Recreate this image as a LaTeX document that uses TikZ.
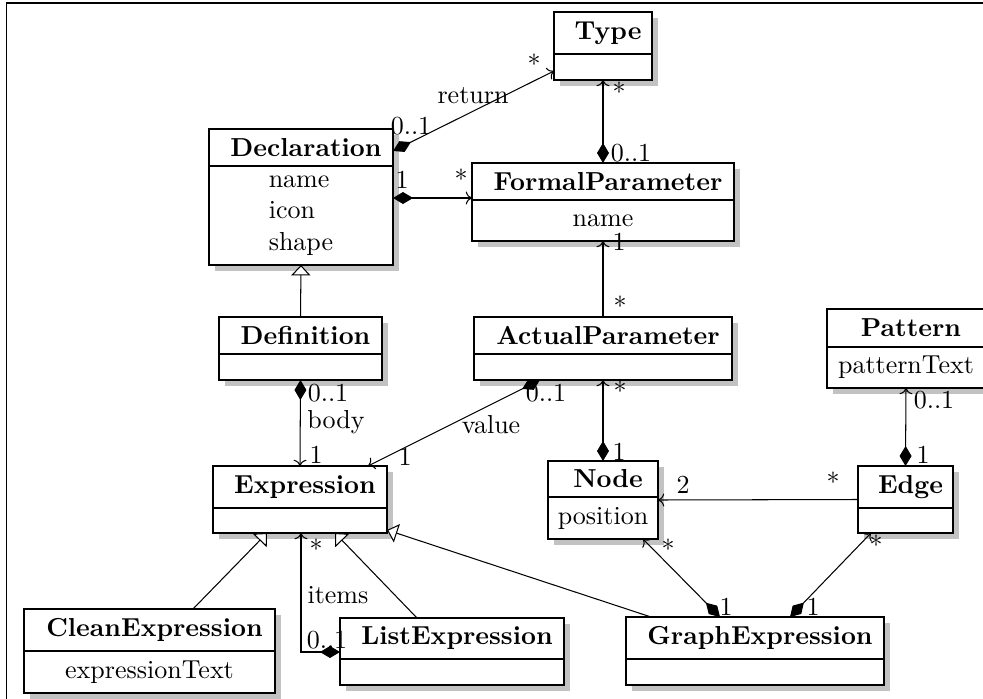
\documentclass[tikz,border=0pt]{standalone}
\usetikzlibrary{arrows.meta,calc}

% class box: name, x1, y1, x2, y-divider, y2, title, attributes
\newcommand\umlclass[8]{%
  \fill[boxshadow] (#2+6,#3+6) rectangle (#4+6,#6+6);
  \node[classbox, anchor=north west,
        minimum width={(#4-#2)*0.3846pt},
        minimum height={(#6-#3)*0.3846pt}] (#1) at (#2,#3) {};
  \draw[classrule] (#2,#5) -- (#4,#5);
  \node[classname] (#1-name) at ({(#2+#4)/2+5},{(#3+#5)/2}) {#7};
  \if\relax\detokenize{#8}\relax\else
    \node[classattr] (#1-attr) at ({(#2+#4)/2},{(#5+#6)/2}) {#8};
  \fi
}

\begin{document}
\begin{tikzpicture}[x=0.3846pt,y=-0.3846pt,
  boxshadow/.style={fill=black!24},
  classbox/.style={rectangle,draw=black,line width=0.5pt,fill=white,inner sep=0pt,outer sep=0pt},
  classrule/.style={draw=black,line width=0.5pt},
  classname/.style={inner sep=0pt,font=\bfseries},
  classattr/.style={inner sep=0pt,align=left},
  mult/.style={inner sep=0pt},
  assoc/.style={draw=black,line width=0.4pt,-{To[length=2.4pt,width=5pt]}},
  comp/.style={draw=black,line width=0.4pt,{Diamond[length=7.7pt,width=4.6pt]}-{To[length=2.4pt,width=5pt]}},
  gen/.style={draw=black,line width=0.4pt,-{Triangle[open,length=4pt,width=7.4pt,fill=white]}}
]
\useasboundingbox (0,0) rectangle (983,699);
\clip (0,0) rectangle (983,699);
\fill[white] (0,0) rectangle (983,699);

% outer frame
\draw[line width=0.5pt] (6.5,720) -- (6.5,3) -- (1000,3);

% classes
\umlclass{type}{554}{12}{652}{54}{80}{Type}{}
\umlclass{decl}{209}{129}{393}{166}{265}{Declaration}{name\\icon\\shape}
\umlclass{fp}{472}{163}{734}{200}{241}{FormalParameter}{name}
\umlclass{def}{219}{317}{382}{354}{380}{Definition}{}
\umlclass{ap}{474}{317}{732}{354}{380}{ActualParameter}{}
\umlclass{pattern}{827}{309}{985}{347}{388}{Pattern}{patternText}
\umlclass{node}{548}{461}{658}{497}{539}{Node}{position}
\umlclass{edge}{858}{466}{953}{508}{533}{Edge}{}
\umlclass{expr}{213}{466}{387}{508}{533}{Expression}{}
\umlclass{clean}{24}{609}{275}{651}{693}{CleanExpression}{expressionText}
\umlclass{list}{340}{618}{564}{659}{685}{ListExpression}{}
\umlclass{graph}{626}{617}{884}{659}{685}{GraphExpression}{}

% associations and compositions
\draw[comp] ($(decl.north east)+(0,22)$) -- ($(type.south west)+(0,-9)$);
\draw[comp] ($(decl.north east)+(0,69)$) -- ($(fp.north west)+(0,35)$);
\draw[comp] (fp.north) -- (type.south);
\draw[assoc] (ap.north) -- (fp.south);
\draw[comp] (def.south) -- (expr.north);
\draw[comp] ($(ap.south west)+(66,0)$) -- ($(expr.north east)+(-19,0)$);
\draw[comp] (node.north) -- (ap.south);
\draw[assoc] (edge.west) -- (node.east);
\draw[comp] (edge.north) -- (pattern.south);
\draw[comp] ($(graph.north west)+(94,0)$) -- ($(node.south east)+(-15,0)$);
\draw[comp] ($(graph.north west)+(164,0)$) -- ($(edge.south east)+(-82,0)$);
\draw[comp] ($(list.north west)+(0,34)$) -| ($(expr.south west)+(88,0)$);

% generalizations
\draw[gen] (def.north) -- (decl.south);
\draw[gen] ($(clean.north west)+(169,0)$) -- ($(expr.south west)+(54,0)$);
\draw[gen] ($(list.north west)+(77,0)$) -- ($(expr.south west)+(122,0)$);
\draw[gen] ($(graph.north west)+(25,0)$) -- ($(expr.south east)+(0,-3)$);

% multiplicities and role names
\node[mult] (m1) at (411,126) {0..1};
\node[mult] (m2) at (473,96) {return};
\node[mult] (m3) at (534,64) {*};
\node[mult] (m4) at (619,92) {*};
\node[mult] (m5) at (631,153) {0..1};
\node[mult] (m6) at (402,180) {1};
\node[mult] (m7) at (461,179) {*};
\node[mult] (m8) at (619,242) {1};
\node[mult] (m9) at (620,306) {*};
\node[mult] (m10) at (328,393) {0..1};
\node[mult] (m11) at (336,422) {body};
\node[mult] (m12) at (316,455) {1};
\node[mult] (m13) at (546,393) {0..1};
\node[mult] (m14) at (491,425) {value};
\node[mult] (m15) at (405,457) {1};
\node[mult] (m16) at (620,391) {*};
\node[mult] (m17) at (619,452) {1};
\node[mult] (m18) at (683,485) {2};
\node[mult] (m19) at (833,482) {*};
\node[mult] (m20) at (934,400) {0..1};
\node[mult] (m21) at (923,455) {1};
\node[mult] (m22) at (668,549) {*};
\node[mult] (m23) at (726,607) {1};
\node[mult] (m24) at (876,545) {*};
\node[mult] (m25) at (813,607) {1};
\node[mult] (m26) at (316,549) {*};
\node[mult] (m27) at (338,595) {items};
\node[mult] (m28) at (327,640) {0..1};
\end{tikzpicture}
\end{document}
